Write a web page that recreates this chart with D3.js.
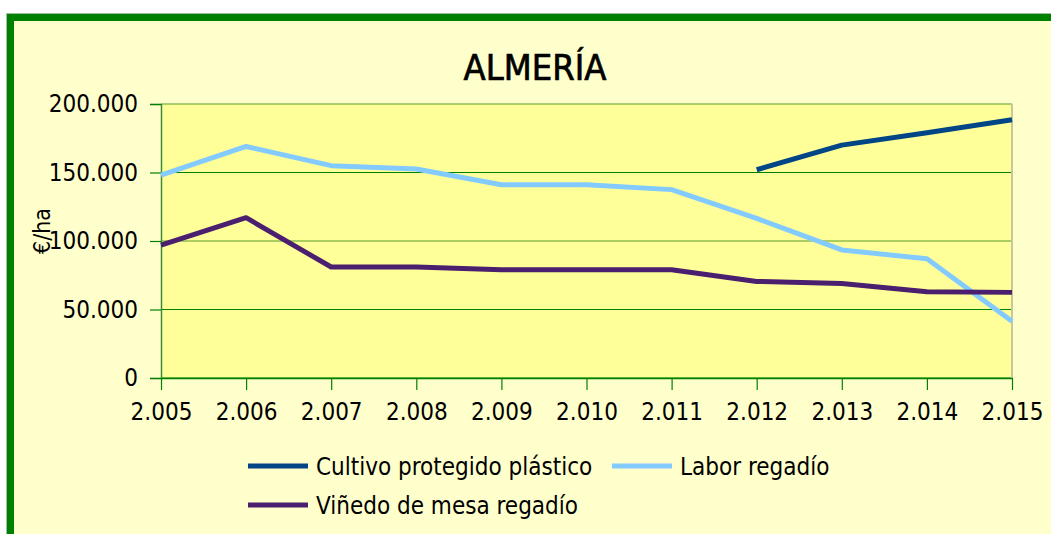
<!DOCTYPE html>
<html>
<head>
<meta charset="utf-8">
<script src="https://cdn.jsdelivr.net/npm/d3@7"></script>
<style>
  body { margin: 0; background: #fff; }
  text { font-family: "DejaVu Sans Condensed", "DejaVu Sans", sans-serif; fill: #000; }
</style>
</head>
<body>
<div id="chart"></div>
<script>
// data
const years = [2005, 2006, 2007, 2008, 2009, 2010, 2011, 2012, 2013, 2014, 2015];
const cultivo = [null, null, null, null, null, null, null, 152000, 170000, 179000, 188500];
const labor = [148000, 169000, 155000, 152500, 141000, 141000, 137500, 116500, 93500, 87000, 41500];
const vinedo = [97000, 117000, 81000, 81000, 79000, 79000, 79000, 70500, 69000, 63000, 62500];
const yTicks = [0, 50000, 100000, 150000, 200000];
const seriesNames = ["Cultivo protegido plástico", "Labor regadío", "Viñedo de mesa regadío"];
const seriesColors = ["#004586", "#83CAFF", "#4B1F6F"];

const W = 1051, H = 534;
const plotL = 161, plotR = 1012, plotT = 104, plotB = 378;

const fmt = v => d3.format(",")(v).replace(/,/g, ".");

const svg = d3.select("#chart").append("svg")
    .attr("width", W)
    .attr("height", H);

// outer frame
svg.append("rect")
    .attr("x", 10.5).attr("y", 17.5)
    .attr("width", 1100).attr("height", 600)
    .attr("fill", "#FFFFCC")
    .attr("stroke", "#008000")
    .attr("stroke-width", 7)
svg.append("rect")
    .attr("x", 6.5).attr("y", 13.5)
    .attr("width", 1100).attr("height", 600)
    .attr("fill", "none")
    .attr("stroke", "#9fbf9f")
    .attr("stroke-width", 1)

const x = d3.scalePoint().domain(years).range([plotL, plotR]);
const y = d3.scaleLinear().domain([0, 200000]).range([plotB, plotT]);

// plot area
svg.append("rect")
    .attr("x", plotL).attr("y", plotT)
    .attr("width", plotR - plotL).attr("height", plotB - plotT)
    .attr("fill", "#FFFF99")
    .attr("stroke", "none")

// grid
svg.append("g").selectAll("line")
    .data(yTicks)
    .enter().append("line")
    .attr("x1", plotL).attr("x2", plotR)
    .attr("y1", d => y(d)).attr("y2", d => y(d))
    .attr("stroke", d => d % 100000 === 0 && d > 0 ? "#5a9e2a" : "#008000")
    .attr("stroke-width", 1.2)

svg.append("line")
    .attr("x1", plotR).attr("x2", plotR)
    .attr("y1", plotT).attr("y2", plotB)
    .attr("stroke", "#c8c8a0")
    .attr("stroke-width", 2)

// y axis
const yAxis = svg.append("g")
    .attr("transform", `translate(${plotL},0)`)
    .call(d3.axisLeft(y).tickValues(yTicks).tickFormat(fmt).tickSize(11).tickPadding(12));
yAxis.select(".domain").attr("stroke", "#3c8c3c").attr("stroke-width", 1.5);
yAxis.selectAll(".tick line").attr("stroke", "#008000").attr("stroke-width", 1.2);
yAxis.selectAll(".tick text").style("font-size", "24px");

// x axis
const xAxis = svg.append("g")
    .attr("transform", `translate(0,${plotB})`)
    .call(d3.axisBottom(x).tickFormat(fmt).tickSize(12).tickPadding(13).tickSizeOuter(0));
xAxis.select(".domain").attr("stroke", "#008000").attr("stroke-width", 1.5);
xAxis.selectAll(".tick line").attr("stroke", "#008000").attr("stroke-width", 1.2);
xAxis.selectAll(".tick text").style("font-size", "24px");

// lines
const line = d3.line()
    .defined(d => d.v !== null)
    .x(d => x(d.year))
    .y(d => y(d.v));

[cultivo, labor, vinedo].forEach((vals, i) => {
    svg.append("path")
        .datum(years.map((yr, j) => ({year: yr, v: vals[j]})))
        .attr("d", line)
        .attr("fill", "none")
        .attr("stroke", seriesColors[i])
        .attr("stroke-width", 5)
        .attr("stroke-linejoin", "round")
});

// title
svg.append("text")
    .attr("x", 535).attr("y", 80)
    .attr("text-anchor", "middle")
    .style("font-size", "36px")
    .style("stroke", "#000")
    .style("stroke-width", 0.7)
    .text("ALMERÍA")

// y axis label
svg.append("text")
    .attr("transform", "translate(50,231) rotate(-90)")
    .attr("text-anchor", "middle")
    .style("font-size", "23px")
    .text("€/ha")

// legend
const legendPos = [[248, 466], [612, 466], [248, 505]];
seriesNames.forEach((name, i) => {
    const [lx, ly] = legendPos[i];
    svg.append("line")
        .attr("x1", lx).attr("x2", lx + 60)
        .attr("y1", ly).attr("y2", ly)
        .attr("stroke", seriesColors[i])
        .attr("stroke-width", 5)
    svg.append("text")
        .attr("x", lx + 68).attr("y", ly + 9)
        .style("font-size", "24px")
        .text(name)
});
</script>
</body>
</html>
